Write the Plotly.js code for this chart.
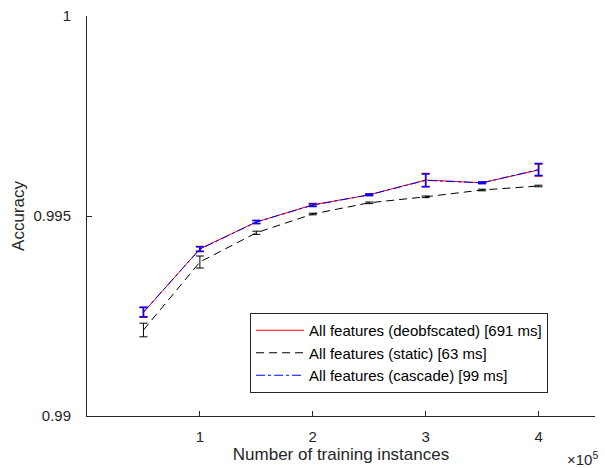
<!DOCTYPE html>
<html>
<head>
<meta charset="utf-8">
<script src="https://cdn.plot.ly/plotly-3.0.1.min.js"></script>
<style>html,body{margin:0;padding:0;background:#fff}#chart{width:605px;height:468px}</style>
</head>
<body>
<div id="chart"></div>
<script>
const instances = [50000, 100000, 150000, 200000, 250000, 300000, 350000, 400000];
const deobfAcc = [0.99259, 0.99418, 0.99485, 0.99528, 0.99553, 0.99590, 0.99583, 0.99615];
const deobfErr = [0.00012, 0.00006, 0.00004, 0.00003, 0.00002, 0.00016, 0.00002, 0.00015];
const staticAcc = [0.99215, 0.99385, 0.99458, 0.99505, 0.99533, 0.99548, 0.99565, 0.99575];
const staticErr = [0.00017, 0.00015, 0.00004, 0.00002, 0.00002, 0.00002, 0.00002, 0.00002];
const cascadeAcc = [0.99260, 0.99417, 0.99485, 0.99527, 0.99553, 0.99589, 0.99583, 0.99616];
const cascadeErr = [0.00012, 0.00006, 0.00004, 0.00003, 0.00002, 0.00016, 0.00002, 0.00015];
const names = ['All features (deobfscated) [691 ms]', 'All features (static) [63 ms]', 'All features (cascade) [99 ms]'];
const xTickVals = [100000, 200000, 300000, 400000];
const xTickText = ['1', '2', '3', '4'];
const yTickVals = [0.99, 0.995, 1];
const yTickText = ['0.99', '0.995', '1'];

const font = 'Liberation Sans, Arial, Helvetica, sans-serif';
const axisCol = '#262626';

const traces = [
  {x: instances, y: deobfAcc, name: names[0], type: 'scatter', mode: 'lines',
   line: {color: '#ff0000', width: 1},
   error_y: {type: 'data', array: deobfErr, visible: true, color: '#ff0000', thickness: 1.5, width: 4}},
  {x: instances, y: staticAcc, name: names[1], type: 'scatter', mode: 'lines',
   line: {color: '#000000', width: 1, dash: '8px,5px'},
   error_y: {type: 'data', array: staticErr, visible: true, color: '#000000', thickness: 1, width: 4}},
  {x: instances, y: cascadeAcc, name: names[2], type: 'scatter', mode: 'lines',
   line: {color: '#0000ff', width: 1, dash: 'dashdot'},
   error_y: {type: 'data', array: cascadeErr, visible: true, color: '#0000ff', thickness: 1.5, width: 4}}
];

const layout = {
  width: 605, height: 468,
  margin: {l: 87, r: 10, t: 16, b: 52},
  paper_bgcolor: '#fff', plot_bgcolor: '#fff',
  font: {family: font, size: 15, color: axisCol},
  showlegend: true,
  xaxis: {
    range: [0, 450000], tickvals: xTickVals, ticktext: xTickText,
    showline: true, linecolor: axisCol, linewidth: 1, mirror: false,
    ticks: 'inside', ticklen: 5, tickcolor: axisCol, showgrid: false, zeroline: false,
    ticklabelstandoff: 7,
    tickfont: {size: 15, color: axisCol},
    title: {text: 'Number of training instances', font: {size: 17, color: axisCol}, standoff: 4}
  },
  yaxis: {
    range: [0.99, 1], tickvals: yTickVals, ticktext: yTickText,
    showline: true, linecolor: axisCol, linewidth: 1, mirror: false,
    ticks: 'inside', ticklen: 5, tickcolor: axisCol, showgrid: false, zeroline: false,
    ticklabelstandoff: 12,
    tickfont: {size: 15, color: axisCol},
    title: {text: 'Accuracy', font: {size: 17, color: axisCol}, standoff: 4}
  },
  legend: {
    x: 0.321, y: 0.2575, xanchor: 'left', yanchor: 'top',
    bgcolor: '#fff', bordercolor: axisCol, borderwidth: 1,
    itemwidth: 48,
    font: {size: 15, color: '#000'}
  },
  annotations: [{
    xref: 'paper', yref: 'paper', x: 1.01, y: -0.105, xanchor: 'right', yanchor: 'middle',
    text: '×10<sup>5</sup>', showarrow: false, font: {size: 15, color: axisCol}
  }]
};

Plotly.newPlot('chart', traces, layout, {displayModeBar: false, staticPlot: true});
</script>
</body>
</html>
